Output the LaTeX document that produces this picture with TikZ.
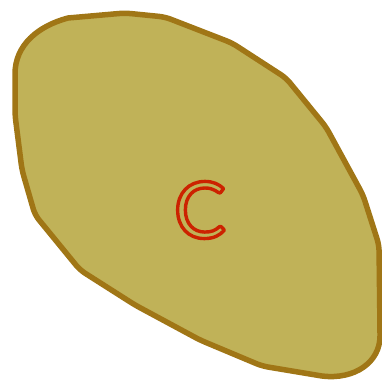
\documentclass[tikz,border=0pt]{standalone}
\usepackage{fontspec}
\setmainfont{Lato}
\definecolor{blobfill}{RGB}{192,178,88}
\definecolor{blobline}{RGB}{160,118,22}
\definecolor{letterred}{RGB}{204,34,0}
\newcommand\outlinetext[1]{\special{pdf:literal direct 1 Tr 3.4 w 1 J 1 j}#1\special{pdf:literal direct 0 Tr 1 w}}
\tikzset{
  blob/.style={draw=blobline, fill=blobfill, line width=5.5pt, line join=round, rounded corners=6pt},
  lettertext/.style={inner sep=0pt, text=letterred, font=\fontsize{78}{78}\selectfont}
}
\begin{document}
\begin{tikzpicture}[x=1pt,y=-1pt]
\useasboundingbox (0,0) rectangle (382,380);
\draw[blob] (68,18) -- (125,13) -- (165,17) -- (232,43) -- (286,78) -- (326,127) -- (363,195) -- (379,245)
  -- (380,330) [rounded corners=0pt] .. controls (380,362) and (355,380) .. (322,376) [rounded corners=6pt]
  -- (262,366) -- (200,340) -- (135,305) -- (80,270) -- (35,215) -- (22,170) -- (15,115) -- (15,80)
  [rounded corners=0pt] .. controls (15,45) and (38,26) .. (68,18) -- cycle;
\node[lettertext] (c) at (200,210) {\outlinetext{C}};
\end{tikzpicture}
\end{document}
